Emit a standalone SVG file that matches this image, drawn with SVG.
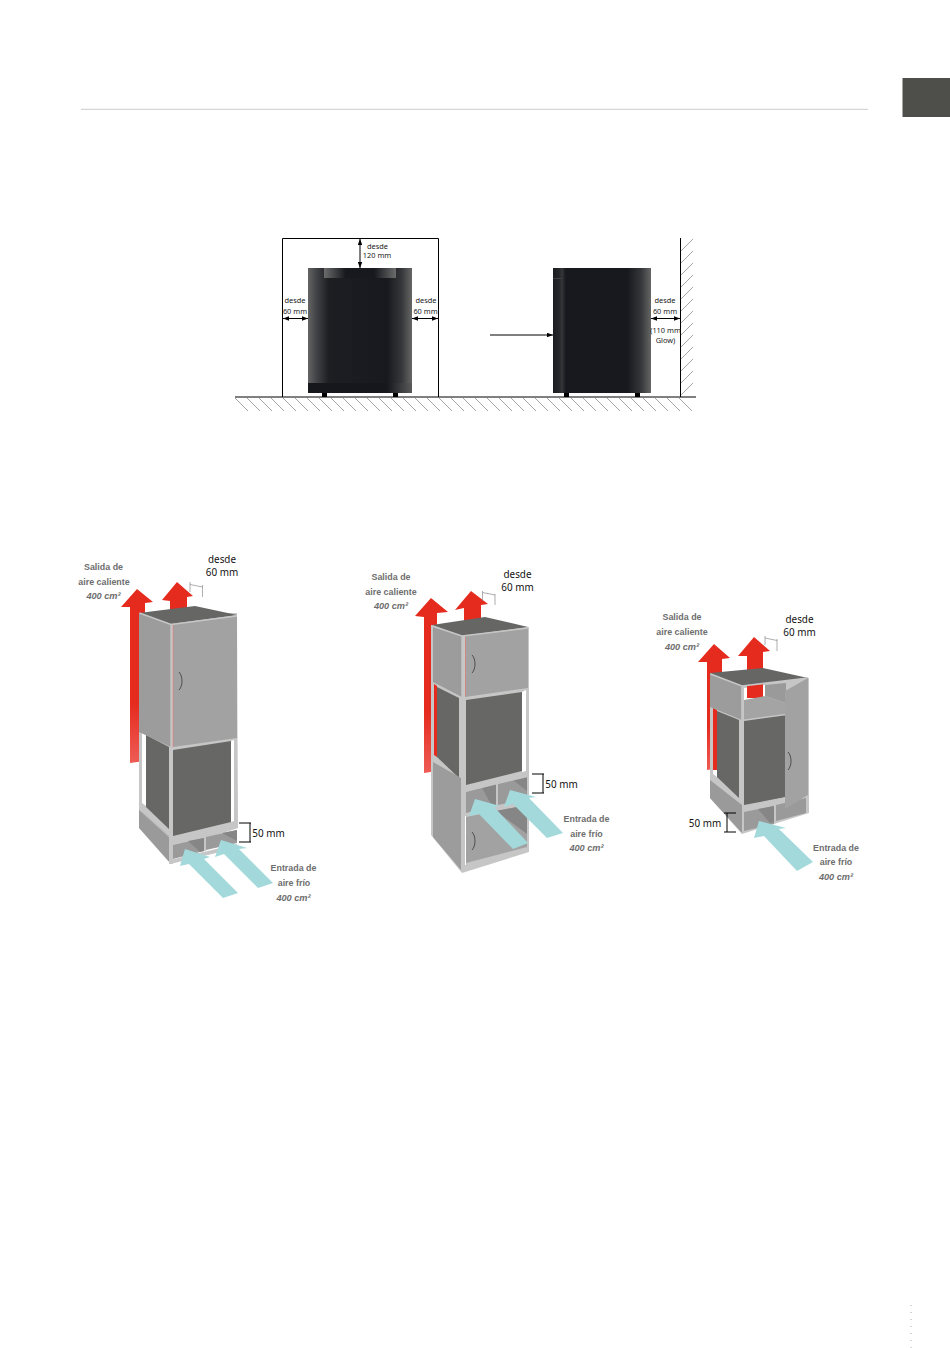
<svg xmlns="http://www.w3.org/2000/svg" width="950" height="1348" viewBox="0 0 950 1348">
<style>
.lab{font-family:"Liberation Sans",Arial,sans-serif;font-weight:700;font-size:8.9px;fill:#6e6e6e;text-anchor:middle}
.it{font-style:italic;font-size:9.2px}
.dim{font-family:"Noto Sans","Open Sans",sans-serif;font-size:9.9px;fill:#111;text-anchor:middle}
.sm{font-family:"Noto Sans","Open Sans",sans-serif;font-size:7.4px;fill:#222;text-anchor:middle}
.blk{stroke:#000;fill:none;stroke-width:1}
.hatch{stroke:#6a6a6a;fill:none;stroke-width:.6}
.thin{stroke:#777;fill:none;stroke-width:.6}
.fr{fill:#c6c6c6}
.pan{fill:#9c9c9c}
.door{fill:#a2a2a2}
.mid{fill:#9a9a9a}
.shade{fill:#868686}
.top{fill:#666665}
.dark{fill:#676765}
.cy{fill:#a4d9dc}
.rd{fill:#e52a1e}
.wh{fill:#fff}
</style>
<defs>
<linearGradient id="hL"><stop offset="0" stop-color="#646464"/><stop offset=".08" stop-color="#424346"/><stop offset=".2" stop-color="#1c1e22"/><stop offset=".76" stop-color="#17191e"/><stop offset=".9" stop-color="#36373a"/><stop offset="1" stop-color="#666"/></linearGradient>
<linearGradient id="hR"><stop offset="0" stop-color="#1a1c20"/><stop offset=".07" stop-color="#26282c"/><stop offset=".09" stop-color="#35373a"/><stop offset=".13" stop-color="#17191e"/><stop offset=".76" stop-color="#17191e"/><stop offset=".9" stop-color="#36373a"/><stop offset="1" stop-color="#666"/></linearGradient>
<linearGradient id="hT"><stop offset="0" stop-color="#6c6c6c"/><stop offset=".3" stop-color="#17191e"/><stop offset=".7" stop-color="#17191e"/><stop offset="1" stop-color="#6c6c6c"/></linearGradient>
<linearGradient id="hB"><stop offset="0" stop-color="#15171c"/><stop offset=".76" stop-color="#15171c"/><stop offset="1" stop-color="#5a5a5a"/></linearGradient>
<linearGradient id="up" x1="0" y1="0" x2="0" y2="1"><stop offset="0" stop-color="#e52a1e"/><stop offset=".65" stop-color="#e52a1e"/><stop offset="1" stop-color="#ee5c55"/></linearGradient>
<marker id="a" viewBox="0 0 8 6" refX="8" refY="3" markerWidth="6" markerHeight="4.5" orient="auto-start-reverse" markerUnits="userSpaceOnUse"><path d="M0 0L8 3L0 6z" fill="#000"/></marker>
</defs>

<g id="page">
<rect width="950" height="1348" fill="#fff"/>
<path d="M81 109.3H868" stroke="#d6d6d6" stroke-width="1.2"/>
<rect x="902.5" y="78" width="47.5" height="39" fill="#4e4e4a"/>
<path d="M911 1305V1348" stroke="#aaa" stroke-width="1" stroke-dasharray="1 6"/>
</g>

<g id="elevation-structure">
<path d="M282.500 397V238.500H438.500V397M680.500 238V397M235 397H696" stroke="#000" stroke-width="1" fill="none"/>
<path class="hatch" d="M235 398l13 13M247 398l13 13M259 398l13 13M271 398l13 13M283 398l13 13M295 398l13 13M307 398l13 13M319 398l13 13M331 398l13 13M343 398l13 13M355 398l13 13M367 398l13 13M379 398l13 13M391 398l13 13M403 398l13 13M415 398l13 13M427 398l13 13M439 398l13 13M451 398l13 13M463 398l13 13M475 398l13 13M487 398l13 13M499 398l13 13M511 398l13 13M523 398l13 13M535 398l13 13M547 398l13 13M559 398l13 13M571 398l13 13M583 398l13 13M595 398l13 13M607 398l13 13M619 398l13 13M631 398l13 13M643 398l13 13M655 398l13 13M667 398l13 13M679 398l13 13"/>
<path class="hatch" d="M681 251l12-12M681 263l12-12M681 275l12-12M681 287l12-12M681 299l12-12M681 311l12-12M681 323l12-12M681 335l12-12M681 347l12-12M681 359l12-12M681 371l12-12M681 383l12-12M681 395l12-12"/>
</g>

<g id="heater-front">
<rect x="308" y="268" width="104" height="125" fill="url(#hL)"/>
<rect x="324" y="268" width="72" height="10" fill="url(#hT)"/>
<rect x="308" y="383" width="104" height="10" fill="url(#hB)"/>
<rect x="322" y="393" width="5" height="4" fill="#000"/>
<rect x="393" y="393" width="5" height="4" fill="#000"/>
</g>
<g id="heater-side">
<rect x="553" y="268" width="98" height="125" fill="url(#hR)"/>
<path d="M553 278.500H561" stroke="#555" stroke-width=".6"/>
<rect x="564" y="393" width="5" height="4" fill="#000"/>
<rect x="635" y="393" width="5" height="4" fill="#000"/>
</g>

<g id="elevation-connectors">
<path class="blk" marker-start="url(#a)" marker-end="url(#a)" d="M360 239V268"/>
<path class="blk" marker-start="url(#a)" marker-end="url(#a)" d="M283 318.500H308"/>
<path class="blk" marker-start="url(#a)" marker-end="url(#a)" d="M412 318.500H438"/>
<path class="blk" marker-start="url(#a)" marker-end="url(#a)" d="M651 318.500H680"/>
<path class="blk" marker-end="url(#a)" d="M490 335H553"/>
</g>
<g id="elevation-labels">
<text class="sm" x="377.500" y="249">desde</text><text class="sm" x="377" y="258">120 mm</text>
<text class="sm" x="295" y="303">desde</text><text class="sm" x="295" y="313.500">60 mm</text>
<text class="sm" x="426" y="303">desde</text><text class="sm" x="425.500" y="313.500">60 mm</text>
<text class="sm" x="665" y="303">desde</text><text class="sm" x="665" y="313.500">60 mm</text>
<text class="sm" x="665.500" y="333">(110 mm</text><text class="sm" x="665.500" y="342.500">Glow)</text>
</g>

<g id="cabinet-1">
<polygon style="fill:url(#up)" points="130,763 130,607 121,607 137,589 153,602 145,603 145,761"/>
<polygon class="rd" points="170,612 170,601 162,600 177,582 193,596 187,597 187,612"/>
<polygon class="fr" points="139,613 237,613 238,828 172,850 139,825"/>
<polygon class="wh" points="142,733 146,735 146,806 142,803"/>
<polygon class="wh" points="231,741 234,740 234,821 231,822"/>
<polygon class="dark" points="146,735 169,747 169,829 146,807"/>
<polygon class="dark" points="173,750 231,741 231,822 173,836"/>
<polygon class="pan" points="139,613 171,624 171,747 139,732"/>
<polygon class="door" points="173,624 237,616 237,738 173,747"/>
<polygon class="top" points="139,613 195,606 237,615 171,624"/>
<path d="M173 625V747" stroke="#ef7a74" stroke-width=".6"/>
<path d="M139.500 613L171 624.500L237 616M171 624V747" stroke="#c6c6c6" stroke-width="1.400" fill="none"/>
<path d="M179 672c4 4 4 14 0 18" stroke="#444" stroke-width=".9" fill="none"/>
<polygon class="mid" points="139,810 170,838 170,863 139,828"/>
<path d="M142 812L169 836" stroke="#b4b4b4" stroke-width=".8"/>
<polygon class="fr" points="169,747 173,747 173,864 169,864"/>
<polygon class="fr" points="173,838 237,823 237,828 173,843"/>
<polygon class="mid" points="173,845 204,838 204,851 173,859"/>
<polygon class="shade" points="188,841 204,838 204,851 200,852"/>
<polygon class="mid" points="206,837 237,830 237,843 206,850"/>
<polygon class="shade" points="222,833 237,830 237,841"/>
<polygon class="fr" points="204,838 206,838 206,851 204,851"/>
<polygon class="fr" points="170,860 237,844 237,848 170,864"/>
<path class="thin" d="M190 582V592M202.500 585V597M190 584.500L202.500 587"/>
<polygon class="cy" points="185,849 210,857 204,859 238,893 223,898 189,864 180,866"/>
<polygon class="cy" points="221,840 247,848 239,849 273,883 258,888 224,854 215,857"/>
<path class="blk" d="M239 823H251M239 842H251M250 823V842"/>
<text class="dim" x="268.500" y="836.500">50 mm</text>
<text class="dim" x="222" y="562.500">desde</text><text class="dim" x="222" y="575.500">60 mm</text>
<text class="lab" x="103.500" y="570">Salida de</text><text class="lab" x="104" y="584.500">aire caliente</text><text class="lab it" x="103.500" y="599">400 cm²</text>
<text class="lab" x="293.500" y="871">Entrada de</text><text class="lab" x="294" y="886">aire frío</text><text class="lab it" x="293.500" y="900.500">400 cm²</text>
</g>

<g id="cabinet-2">
<polygon style="fill:url(#up)" points="424,773 424,617 415,616 431,598 448,612 437,613 437,771"/>
<polygon class="rd" points="464,622 464,608 455,610 471,591 488,604 481,605 481,622"/>
<polygon class="fr" points="431,625 529,627 529,852 462,873 431,835"/>
<polygon class="rd" points="434,684 437,686 437,757 434,755"/>
<polygon class="wh" points="522,692 526,690 526,771 522,772"/>
<polygon class="dark" points="437,687 459,698 459,778 437,757"/>
<polygon class="dark" points="466,700 522,692 522,771 466,785"/>
<polygon class="pan" points="433,627 462,636 462,697 433,682"/>
<polygon class="door" points="465,636 528,628 528,688 465,697"/>
<polygon class="top" points="432,625 485,617 528,627 462,636"/>
<path d="M465.500 637V696" stroke="#ef7a74" stroke-width=".6"/>
<path d="M432.500 626L462 636L528 628M462 636V697" stroke="#c6c6c6" stroke-width="1.400" fill="none"/>
<path d="M472 655c4 4 4 14 0 18" stroke="#444" stroke-width=".9" fill="none"/>
<polygon class="pan" points="433,762 461,778 461,870 433,837"/>
<polygon class="mid" points="466,792 496,784 496,805 466,813"/>
<polygon class="shade" points="482,788 496,784 496,805 492,806"/>
<polygon class="mid" points="498,783 527,777 527,799 498,805"/>
<polygon class="shade" points="513,780 527,777 527,791"/>
<polygon class="fr" points="465,788 528,773 528,777 465,792"/>
<polygon class="wh" points="465,816 466,816 466,865 465,865"/>
<polygon class="door" points="466,817 527,805 527,847 466,863"/>
<polygon class="shade" points="496,811 527,805 527,834"/>
<path d="M472 832c4 4 4 14 0 18" stroke="#444" stroke-width=".9" fill="none"/>
<path class="thin" d="M482.500 591V601M495 594V605M482.500 592.500L495 595"/>
<polygon class="cy" points="475,799 500,806 494,807 528,843 513,849 479,814 469,816"/>
<polygon class="cy" points="510,790 536,797 529,798 563,833 547,838 513,804 504,807"/>
<path class="blk" d="M532 774H544M532 793H544M543 774V793"/>
<text class="dim" x="561.500" y="788">50 mm</text>
<text class="dim" x="517.500" y="577.500">desde</text><text class="dim" x="517.500" y="590.500">60 mm</text>
<text class="lab" x="391" y="580">Salida de</text><text class="lab" x="391" y="594.500">aire caliente</text><text class="lab it" x="391" y="609">400 cm²</text>
<text class="lab" x="586.500" y="821.500">Entrada de</text><text class="lab" x="586.500" y="836.500">aire frío</text><text class="lab it" x="586.500" y="851">400 cm²</text>
</g>

<g id="cabinet-3">
<polygon style="fill:url(#up)" points="707,770 707,662 698,662 714,644 730,658 722,659 722,768"/>
<polygon class="fr" points="710,673 809,678 809,813 742,834 710,798"/>
<polygon class="wh" points="744,688 765,685 765,700 744,704"/>
<polygon class="rd" points="747,698 747,656 738,656 754,637 770,651 763,652 763,698"/>
<polygon class="rd" points="713,708 717,710 717,770 713,770"/>
<polygon class="wh" points="713,770 717,770 717,777 713,774"/>
<polygon class="dark" points="717,711 739,720 739,798 717,777"/>
<polygon class="dark" points="744,720 786,714 786,797 744,805"/>
<polygon class="pan" points="710,673 742,686 742,720 710,707"/>
<polygon fill="#9a9a9a" points="765,685 786,683 786,703 765,696"/>
<polygon fill="#a4a4a4" points="744,700 765,696 786,703 786,714 744,720"/>
<polygon class="top" points="710,673 763,668 808,678 742,686"/>
<path d="M710.500 674L742 686L808 678M742 686V833" stroke="#c6c6c6" stroke-width="1.600" fill="none"/>
<path d="M742 720.500L786 714.500" stroke="#c6c6c6" stroke-width="1.500"/>
<polygon class="mid" points="710,780 742,805 742,833 710,798"/>
<polygon class="mid" points="744,812 774,806 774,824 744,831"/>
<polygon class="shade" points="758,809 774,806 774,822 770,823"/>
<polygon class="mid" points="776,805 806,798 806,813 776,821"/>
<polygon class="fr" points="744,806 786,797 786,800 744,809"/>
<polygon class="door" points="785,691 808,678 808,795 785,809"/>
<path d="M788 752c4 4 4 14 0 18" stroke="#444" stroke-width=".9" fill="none"/>
<path class="thin" d="M765 636V645M777 639V651M765 638L777 640.500"/>
<polygon class="cy" points="759,821 786,828 779,829 813,862 797,871 764,836 754,838"/>
<path class="blk" d="M724 813H736M724 832H736M727 813V832"/>
<text class="dim" x="705" y="827">50 mm</text>
<text class="dim" x="799.500" y="622.500">desde</text><text class="dim" x="799.500" y="635.500">60 mm</text>
<text class="lab" x="682" y="620">Salida de</text><text class="lab" x="682" y="635">aire caliente</text><text class="lab it" x="682" y="649.500">400 cm²</text>
<text class="lab" x="836" y="851">Entrada de</text><text class="lab" x="836" y="865">aire frío</text><text class="lab it" x="836" y="880">400 cm²</text>
</g>
</svg>
